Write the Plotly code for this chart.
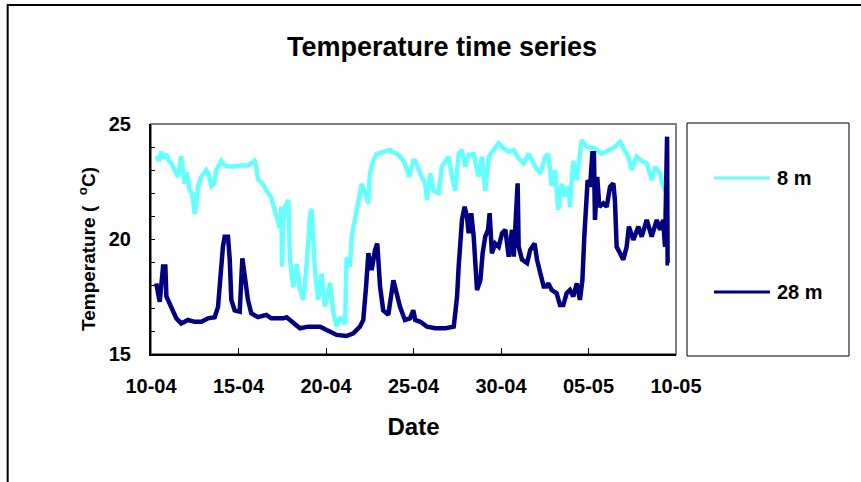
import pandas as pd
import plotly.graph_objects as go

# days since 10-04
days_8m = [0.30, 0.45, 0.59, 0.75, 0.88, 1.02, 1.16, 1.35, 1.54, 1.73, 1.92, 2.05, 2.21, 2.35, 2.50, 2.60,
           2.69, 2.88, 3.16, 3.30, 3.45, 3.60, 3.73, 4.02, 4.20, 4.40, 4.78, 5.16, 5.54, 5.92, 6.00, 6.11,
           6.40, 6.59, 6.87, 7.16, 7.35, 7.45, 7.49, 7.55, 7.66, 7.85, 7.94, 8.13, 8.33, 8.51, 8.70, 8.90,
           9.09, 9.18, 9.28, 9.37, 9.56, 9.75, 9.94, 10.23, 10.42, 10.61, 10.80, 11.09, 11.18, 11.37, 11.47,
           11.66, 11.85, 12.04, 12.23, 12.42, 12.51, 12.70, 12.90, 13.27, 13.66, 14.04, 14.23, 14.50, 14.76,
           14.99, 15.10, 15.39, 15.67, 15.77, 15.96, 16.15, 16.44, 16.62, 16.82, 17.01, 17.20, 17.39, 17.58,
           17.77, 17.96, 18.15, 18.44, 18.72, 18.91, 19.10, 19.30, 19.58, 19.87, 20.15, 20.44, 20.73, 21.01,
           21.30, 21.58, 21.96, 22.25, 22.53, 22.70, 22.90, 23.09, 23.27, 23.47, 23.66, 23.85, 23.94, 24.13,
           24.33, 24.51, 24.61, 24.90, 25.37, 25.75, 26.13, 26.51, 26.80, 27.09, 27.27, 27.47, 27.75, 28.04,
           28.33, 28.61, 28.80, 29.09, 29.27, 29.41]
temp_8m = [23.6, 23.4, 23.8, 23.5, 23.7, 23.4, 23.3, 23.0, 22.7, 23.6, 22.4, 22.9, 22.1, 22.0, 21.1, 21.6,
           22.3, 22.7, 23.0, 22.8, 22.3, 22.4, 23.0, 23.4, 23.2, 23.15, 23.15, 23.2, 23.2, 23.4, 23.2, 22.6,
           22.4, 22.1, 21.8, 21.0, 20.5, 21.4, 18.8, 20.8, 21.4, 21.7, 19.1, 17.9, 18.9, 17.8, 17.35, 18.9,
           21.1, 21.3, 19.7, 18.65, 17.35, 18.5, 17.05, 18.1, 16.8, 16.2, 16.6, 16.3, 19.2, 18.8, 20.1,
           20.8, 21.7, 22.4, 22.0, 21.55, 22.85, 23.4, 23.7, 23.8, 23.87, 23.7, 23.6, 23.3, 22.7,
           23.4, 23.4, 22.85, 22.4, 21.7, 22.85, 22.1, 22.0, 23.15, 23.4, 23.58, 22.7, 22.1, 23.7,
           23.87, 23.15, 23.65, 23.7, 22.7, 23.58, 22.1, 23.58, 23.87, 24.16, 23.94, 23.8, 23.87, 23.5,
           23.3, 23.7, 23.15, 22.85, 23.58, 23.7, 22.3, 23.0, 21.26, 22.4, 21.84, 22.3, 21.4, 23.4,
           22.56, 23.87, 24.3, 24.0, 23.94, 23.7, 23.87, 24.0, 24.23, 23.87, 23.58, 23.0, 23.58, 23.4,
           23.3, 22.56, 23.15, 22.85, 22.3, 22.1]

days_28m = [0.30, 0.40, 0.50, 0.69, 0.82, 0.88, 1.07, 1.26, 1.45, 1.73, 2.11, 2.50, 2.88, 3.26, 3.64, 3.83,
            4.02, 4.11, 4.21, 4.40, 4.50, 4.59, 4.78, 5.07, 5.22, 5.35, 5.54, 5.73, 6.11, 6.59, 6.87, 7.45,
            7.56, 7.75, 8.13, 8.51, 8.99, 9.66, 10.04, 10.61, 11.18, 11.56, 11.94, 12.13, 12.29, 12.42, 12.61,
            12.80, 12.93, 13.09, 13.27, 13.56, 13.85, 14.04, 14.23, 14.51, 14.80, 14.99, 15.10, 15.39, 15.77,
            16.25, 16.82, 17.30, 17.39, 17.49, 17.58, 17.67, 17.77, 17.92, 18.06, 18.15, 18.30, 18.44, 18.53,
            18.63, 18.82, 18.95, 19.10, 19.26, 19.35, 19.48, 19.67, 19.87, 20.06, 20.25, 20.44, 20.63, 20.73,
            20.86, 20.95, 21.01, 21.20, 21.49, 21.67, 21.92, 22.06, 22.25, 22.44, 22.59, 22.70, 22.90, 23.18,
            23.37, 23.56, 23.75, 23.94, 24.13, 24.33, 24.51, 24.65, 24.76, 24.84, 24.95, 25.09, 25.22, 25.31,
            25.37, 25.50, 25.62, 25.85, 26.04, 26.23, 26.42, 26.51, 26.61, 26.80, 26.99, 27.18, 27.31, 27.56,
            27.85, 28.04, 28.33, 28.61, 28.90, 29.09, 29.27, 29.37, 29.49, 29.52, 29.60]
temp_28m = [18.07, 17.5, 17.27, 18.8, 18.8, 17.5, 17.2, 16.9, 16.55, 16.33, 16.48, 16.4, 16.4, 16.55, 16.6, 17.05,
            18.9, 19.66, 20.1, 20.1, 19.1, 17.35, 16.9, 16.84, 19.16, 18.5, 17.35, 16.77, 16.6, 16.7, 16.55, 16.55,
            16.55, 16.6, 16.33, 16.12, 16.19, 16.19, 16.04, 15.83, 15.78, 15.9, 16.19, 16.48, 17.93, 19.38, 18.65,
            19.52, 19.8, 17.93, 16.9, 16.7, 18.2, 17.64, 17.05, 16.48, 16.55, 16.9, 16.48, 16.4, 16.19,
            16.12, 16.12, 16.19, 16.77, 17.5, 18.8, 19.66, 20.83, 21.4, 20.97, 20.25, 21.12, 20.1, 18.65,
            17.78, 18.2, 19.38, 20.1, 20.4, 21.12, 19.38, 19.8, 19.66, 20.25, 20.4, 19.23, 20.4, 19.23,
            21.55, 22.42, 19.66, 19.1, 18.95, 19.52, 19.8, 19.1, 18.5, 17.93, 17.93, 18.07, 17.78, 17.64,
            17.13, 17.13, 17.64, 17.78, 17.5, 18.07, 17.35, 18.2, 20.1, 21.55, 22.56, 22.27, 23.73, 23.73,
            20.83, 22.7, 21.4, 21.55, 21.4, 22.27, 22.42, 21.7, 19.66, 19.38, 19.1, 19.66, 20.54, 19.96,
            20.54, 20.1, 20.83, 20.1, 20.83, 20.4, 20.83, 19.66, 24.45, 18.95, 18.95]

series_names = ["8 m", "28 m"]
series_colors = ["#66FFFF", "#000080"]

start = pd.Timestamp("2000-04-10")
x_8m = start + pd.to_timedelta(days_8m, unit="D")
x_28m = start + pd.to_timedelta(days_28m, unit="D")

font_family = "Arial, 'Liberation Sans', sans-serif"

fig = go.Figure()
fig.add_trace(go.Scatter(x=x_8m, y=temp_8m, mode="lines", name=series_names[0],
                         line=dict(color=series_colors[0], width=4.5)))
fig.add_trace(go.Scatter(x=x_28m, y=temp_28m, mode="lines", name=series_names[1],
                         line=dict(color=series_colors[1], width=4.5)))

# plot area frame (grey), legend box and outer chart border
shapes = [
    dict(type="rect", xref="paper", yref="paper", x0=0, x1=1, y0=0, y1=1,
         line=dict(color="#808080", width=2), layer="below"),
    dict(type="rect", xref="paper", yref="paper", x0=1.021, x1=1.3295, y0=-0.0087, y1=1.0043,
         line=dict(color="black", width=1)),
    dict(type="rect", xref="paper", yref="paper", x0=-0.273, x1=1.45, y0=-0.75, y1=1.517,
         line=dict(color="black", width=2)),
]
legend_y = [0.765, 0.2696]
annotations = [
    # y axis title, Excel style with a superscript degree "o"
    dict(text="Temperature (  <sup>o</sup>C)", xref="paper", yref="paper", x=(87 - 151) / 525,
         y=(354 - 249) / 230, xanchor="center", yanchor="middle", textangle=-90, showarrow=False,
         font=dict(family=font_family, size=19, color="black", weight="bold")),
]
for name, color, ly in zip(series_names, series_colors, legend_y):
    shapes.append(dict(type="line", xref="paper", yref="paper", x0=1.0724, x1=1.179, y0=ly, y1=ly,
                       line=dict(color=color, width=3)))
    annotations.append(dict(text=name, xref="paper", yref="paper", x=1.1886, y=ly, xanchor="left",
                            yanchor="middle", showarrow=False,
                            font=dict(family=font_family, size=20, color="black", weight="bold")))

fig.update_layout(
    width=861, height=482, autosize=False,
    margin=dict(l=151, r=185, t=124, b=128),
    paper_bgcolor="white", plot_bgcolor="white",
    showlegend=False,
    font=dict(family=font_family, size=20, color="black", weight="bold"),
    title=dict(text="Temperature time series", x=442 / 861, y=1 - 47 / 482, xref="container",
               yref="container", xanchor="center", yanchor="middle",
               font=dict(size=27, weight="bold")),
    shapes=shapes,
    annotations=annotations,
)
fig.update_xaxes(
    range=["2000-04-10", "2000-05-10"], tick0="2000-04-10", dtick=5 * 86400000, tickformat="%d-%m",
    ticks="inside", ticklen=6, tickcolor="black", showline=True, linecolor="black", linewidth=2,
    showgrid=False, zeroline=False, ticklabelstandoff=13,
    title=dict(text="Date", standoff=22),
)
fig.update_yaxes(
    range=[15, 25], dtick=5, ticks="inside", ticklen=4, tickcolor="black",
    minor=dict(dtick=1, ticks="inside", ticklen=4, tickcolor="black"),
    showline=True, linecolor="black", linewidth=2, showgrid=False, zeroline=False,
    ticklabelstandoff=14,
)

# the page body has an 8px default margin; drop it so the chart sits at the window origin
fig.write_html("out.html", config={"displayModeBar": False},
               post_script="document.body.style.margin='0';")
